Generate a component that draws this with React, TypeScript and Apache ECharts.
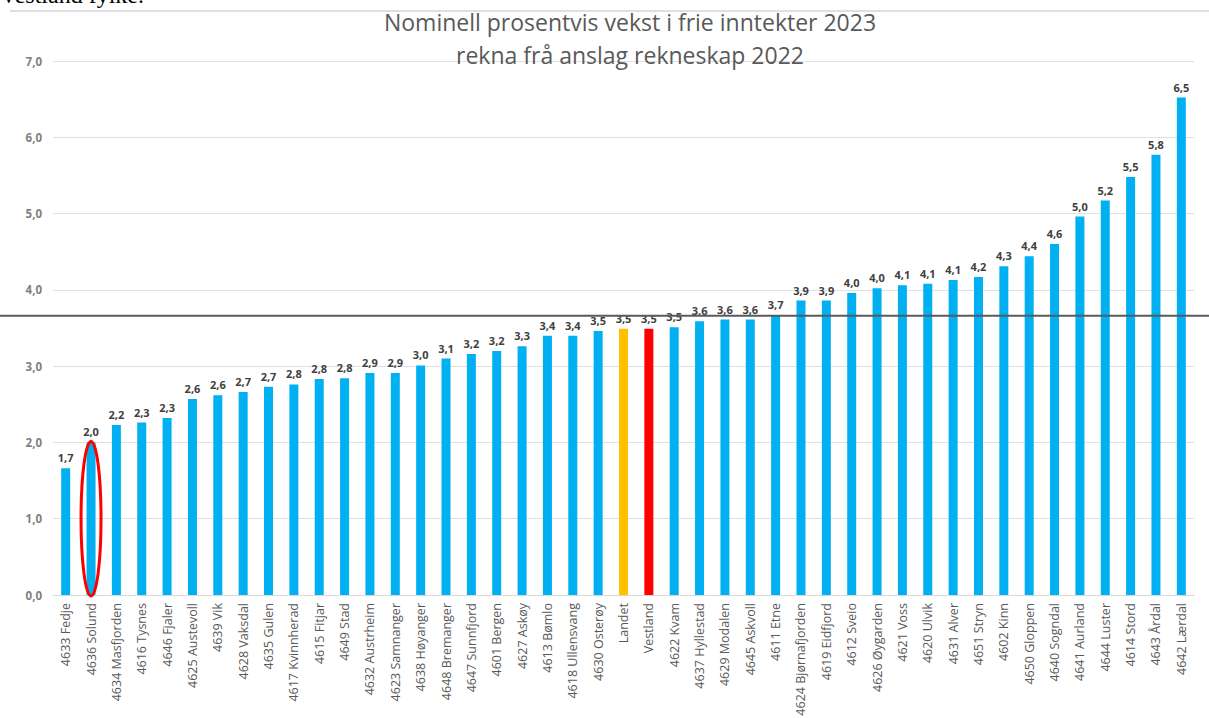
import React, { useEffect, useRef } from "react";
import * as echarts from "echarts";

const categories: string[] = [
  "4633 Fedje", "4636 Solund", "4634 Masfjorden", "4616 Tysnes", "4646 Fjaler",
  "4625 Austevoll", "4639 Vik", "4628 Vaksdal", "4635 Gulen", "4617 Kvinnherad",
  "4615 Fitjar", "4649 Stad", "4632 Austrheim", "4623 Samnanger", "4638 Høyanger",
  "4648 Bremanger", "4647 Sunnfjord", "4601 Bergen", "4627 Askøy", "4613 Bømlo",
  "4618 Ullensvang", "4630 Osterøy", "Landet", "Vestland", "4622 Kvam",
  "4637 Hyllestad", "4629 Modalen", "4645 Askvoll", "4611 Etne", "4624 Bjørnafjorden",
  "4619 Eidfjord", "4612 Sveio", "4626 Øygarden", "4621 Voss", "4620 Ulvik",
  "4631 Alver", "4651 Stryn", "4602 Kinn", "4650 Gloppen", "4640 Sogndal",
  "4641 Aurland", "4644 Luster", "4614 Stord", "4643 Årdal", "4642 Lærdal",
];

const values: number[] = [
  1.66, 2.0, 2.23, 2.26, 2.32,
  2.57, 2.62, 2.66, 2.73, 2.76,
  2.83, 2.84, 2.91, 2.91, 3.01,
  3.1, 3.16, 3.2, 3.26, 3.4,
  3.4, 3.46, 3.49, 3.49, 3.51,
  3.59, 3.61, 3.61, 3.67, 3.86,
  3.86, 3.96, 4.02, 4.06, 4.08,
  4.13, 4.17, 4.31, 4.44, 4.6,
  4.96, 5.17, 5.48, 5.77, 6.52,
];

const yTicks = { min: 0, max: 7, interval: 1 };
const referenceLine = 3.66;
const highlightCategory = "4636 Solund";
const titleLines = ["Nominell prosentvis vekst i frie inntekter 2023", "rekna frå anslag rekneskap 2022"];
const headingText = "Vestland fylke.";

const colorFor = (name: string) =>
  name === "Landet" ? "#FFC000" : name === "Vestland" ? "#FF0000" : "#00B0F0";

const fmt = (v: number) => (Math.round(v * 10) / 10).toFixed(1).replace(".", ",");

export default function App() {
  const ref = useRef<HTMLDivElement>(null);
  useEffect(() => {
    if (!ref.current) return;
    const chart = echarts.init(ref.current, null, { renderer: "svg" });
    const font = "'Open Sans', 'Noto Sans', sans-serif";
    chart.setOption({
      animation: false,
      backgroundColor: "#ffffff",
      grid: {
        left: 53,
        right: 15,
        top: 61,
        bottom: 123,
        containLabel: false,
        outerBoundsMode: "none",
      },
      xAxis: {
        type: "category",
        data: categories,
        axisTick: { show: false },
        axisLine: { lineStyle: { color: "#d9d9d9", width: 1 } },
        axisLabel: {
          rotate: 90,
          interval: 0,
          fontSize: 12.5,
          color: "#595959",
          fontFamily: font,
          margin: 8,
        },
      },
      yAxis: {
        type: "value",
        min: yTicks.min,
        max: yTicks.max,
        interval: yTicks.interval,
        axisLine: { show: false },
        axisTick: { show: false },
        splitLine: { lineStyle: { color: "#e0e0e0", width: 1 } },
        axisLabel: {
          formatter: (v: number) => fmt(v),
          fontSize: 11.5,
          fontWeight: "bold",
          color: "#7f7f7f",
          fontFamily: font,
          margin: 11,
        },
      },
      series: [
        {
          type: "bar",
          barWidth: 9,
          data: values.map((v, i) => ({
            value: v,
            itemStyle: { color: colorFor(categories[i]) },
          })),
          label: {
            show: true,
            position: "top",
            distance: 5,
            formatter: (p: any) => fmt(p.value),
            fontSize: 11,
            fontWeight: "bold",
            color: "#404040",
            fontFamily: font,
          },
        },
      ],
    });

    const w = chart.getWidth();
    const yRef = chart.convertToPixel({ yAxisIndex: 0 }, referenceLine) as number;
    const hiIdx = categories.indexOf(highlightCategory);
    const cx = chart.convertToPixel({ xAxisIndex: 0 }, categories[hiIdx]) as number;
    const yTop = chart.convertToPixel({ yAxisIndex: 0 }, values[hiIdx]) as number;
    const yBot = chart.convertToPixel({ yAxisIndex: 0 }, 0) as number;

    chart.setOption({
      graphic: [
        {
          type: "text",
          left: 0,
          top: -17,
          style: {
            text: headingText,
            fontSize: 24,
            fontFamily: "'Liberation Serif', serif",
            fill: "#000000",
          },
        },
        {
          type: "line",
          shape: { x1: 10, y1: 11, x2: w, y2: 11 },
          style: { stroke: "#d4d4d4", lineWidth: 1.5 },
        },
        {
          type: "text",
          x: 630,
          y: 22,
          style: {
            text: titleLines[0],
            fontSize: 23,
            fontFamily: font,
            fill: "#595959",
            align: "center",
            verticalAlign: "middle",
          },
        },
        {
          type: "text",
          x: 630,
          y: 55,
          style: {
            text: titleLines[1],
            fontSize: 23,
            fontFamily: font,
            fill: "#595959",
            align: "center",
            verticalAlign: "middle",
          },
        },
        {
          type: "line",
          z: 100,
          shape: { x1: 0, y1: yRef, x2: w, y2: yRef },
          style: { stroke: "#5a5a5a", lineWidth: 2 },
        },
        {
          type: "ellipse",
          z: 100,
          shape: { cx, cy: (yTop + yBot) / 2, rx: 10, ry: (yBot - yTop) / 2 + 1 },
          style: { stroke: "#FF0000", lineWidth: 3, fill: "none" },
        },
      ],
    });
    return () => chart.dispose();
  }, []);
  return (
    <div
      ref={ref}
      style={{ position: "absolute", left: 0, top: 0, width: 1209, height: 718 }}
    />
  );
}
